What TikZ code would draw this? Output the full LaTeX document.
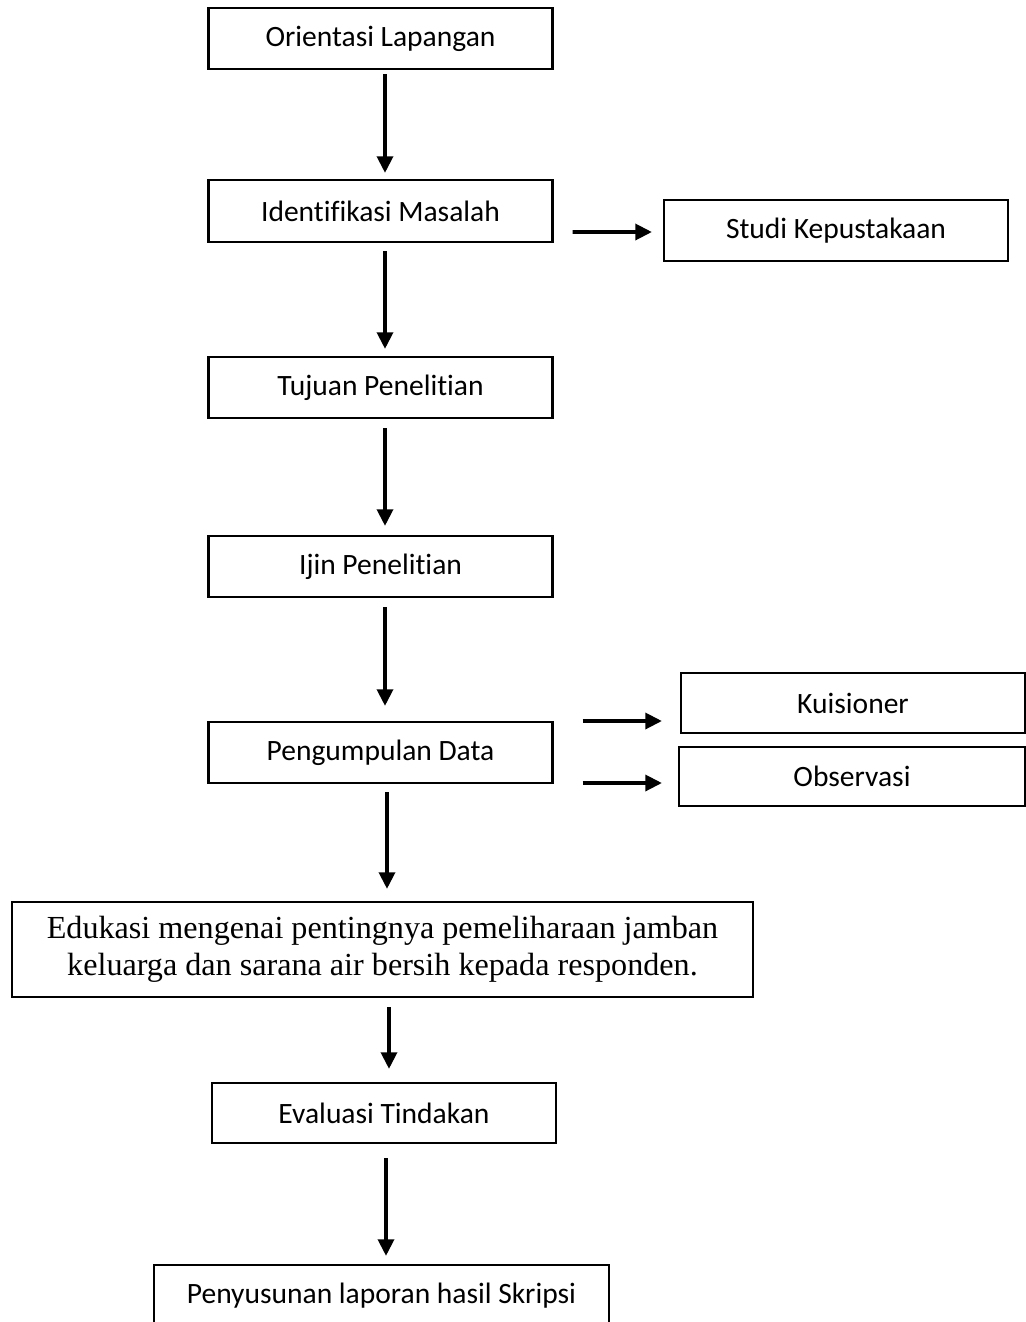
\documentclass[tikz,border=0pt]{standalone}
\usepackage{fontspec}
\setmainfont{Carlito}[Ligatures=NoCommon]
\newfontfamily\timesfont{Liberation Serif}
\usetikzlibrary{arrows.meta, calc}

\begin{document}
\begin{tikzpicture}[x=0.02cm, y=-0.02cm,
    >=Triangle,
    box/.style={draw, line width=1.2pt, inner sep=0pt, align=center,
      minimum width=6.88cm, minimum height=1.22cm,
      font=\fontsize{16.8}{20}\selectfont},
    arr/.style={-{Triangle[length=9.5pt, width=9pt]}, line width=2.2pt}
  ]
  \useasboundingbox (0,0) rectangle (1026,1322);

  % main column
  \node[box] (orient) at (380.5,38.5) {Orientasi Lapangan};
  \node[box, minimum height=1.24cm] (ident) at (380.5,211) {Identifikasi Masalah};
  \node[box] (tujuan) at (380.5,387.5) {Tujuan Penelitian};
  \node[box] (ijin) at (380.5,566.5) {Ijin Penelitian};
  \node[box] (kumpul) at (380.5,752.5) {Pengumpulan Data};
  \node[box, minimum width=14.82cm, minimum height=1.9cm,
    font=\timesfont\fontsize{18.3}{20.8}\selectfont] (edukasi) at (382.5,949.5)
    {Edukasi mengenai pentingnya pemeliharaan jamban\\
     keluarga dan sarana air bersih kepada responden.};
  \node[box, minimum height=1.2cm] (evaluasi) at (384,1113) {Evaluasi Tindakan};
  \node[box, minimum width=9.1cm, minimum height=1.24cm] (laporan) at (381.5,1296)
    {Penyusunan laporan hasil Skripsi};

  % side boxes
  \node[box] (pustaka) at (836,230.5) {Studi Kepustakaan};
  \node[box, minimum height=1.2cm] (kuis) at (853,703) {Kuisioner};
  \node[box, minimum width=6.92cm, minimum height=1.18cm] (obs) at (852,776.5) {Observasi};

  % vertical arrows
  \draw[arr] ($(orient.south)+(4.5,4)$) -- ($(ident.north)+(4.5,-6)$);
  \draw[arr] ($(ident.south)+(4.5,8)$) -- ($(tujuan.north)+(4.5,-7)$);
  \draw[arr] ($(tujuan.south)+(4.5,9)$) -- ($(ijin.north)+(4.5,-9)$);
  \draw[arr] ($(ijin.south)+(4.5,9)$) -- ($(kumpul.north)+(4.5,-15)$);
  \draw[arr] ($(kumpul.south)+(6.5,8)$) -- ($(edukasi.north)+(4.5,-12)$);
  \draw[arr] ($(edukasi.south)+(6.5,9)$) -- ($(evaluasi.north)+(5,-13)$);
  \draw[arr] ($(evaluasi.south)+(2,14)$) -- ($(laporan.north)+(4.5,-8)$);

  % side arrows
  \draw[arr] ($(ident.east)+(19,21)$) -- ($(pustaka.west)+(-11,1.5)$);
  \draw[arr] ($(kumpul.east)+(29,-31.5)$) -- ($(kuis.west)+(-18,18)$);
  \draw[arr] ($(kumpul.east)+(29,30.5)$) -- ($(obs.west)+(-16,6.5)$);
\end{tikzpicture}
\end{document}
